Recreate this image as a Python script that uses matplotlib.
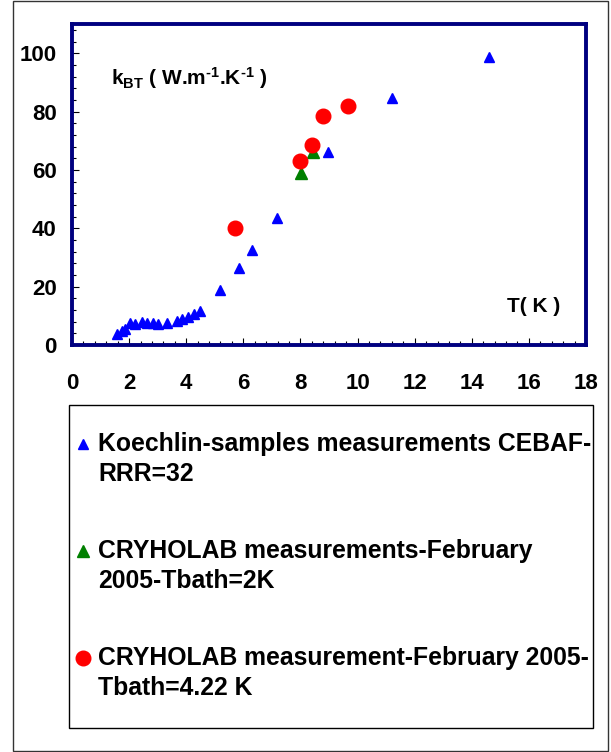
import matplotlib
matplotlib.use("Agg")
import matplotlib.pyplot as plt
from matplotlib.patches import Rectangle
from matplotlib.lines import Line2D
from matplotlib.ticker import MultipleLocator

plt.rcParams['font.family'] = ['Liberation Sans', 'DejaVu Sans']
plt.rcParams['mathtext.fontset'] = 'custom'
plt.rcParams['mathtext.rm'] = 'Liberation Sans:bold'
plt.rcParams['mathtext.it'] = 'Liberation Sans:bold'
plt.rcParams['mathtext.bf'] = 'Liberation Sans:bold'

# Koechlin samples, CEBAF, RRR=32
koechlin_T = [1.58, 1.74, 1.86, 2.03, 2.20, 2.44, 2.61, 2.85, 3.02, 3.31,
              3.66, 3.84, 4.07, 4.27, 4.48, 5.20, 5.86, 6.29, 7.17, 8.97,
              11.19, 14.6]
koechlin_k = [3.8, 4.8, 5.5, 7.5, 7.2, 7.9, 7.5, 7.5, 7.2, 7.5,
              8.2, 8.9, 9.6, 10.5, 11.8, 18.8, 26.3, 32.5, 43.4, 66.0,
              84.8, 98.6]

# CRYHOLAB, February 2005, Tbath = 2 K
cryo2_T = [8.02, 8.45]
cryo2_k = [59.0, 66.0]

# CRYHOLAB, February 2005, Tbath = 4.22 K
cryo4_T = [5.71, 7.98, 8.39, 8.80, 9.68]
cryo4_k = [40.0, 63.0, 68.7, 78.5, 81.8]

legend_labels = [
    ["Koechlin-samples measurements CEBAF-", "RRR=32"],
    ["CRYHOLAB measurements-February", "2005-Tbath=2K"],
    ["CRYHOLAB measurement-February 2005-", "Tbath=4.22 K"],
]

x_ticks = list(range(0, 19, 2))
y_ticks = list(range(0, 101, 20))

W, H = 611, 752
fig = plt.figure(figsize=(W / 100, H / 100), dpi=100)


def fx(px):
    return px / W


def fy(py):
    return 1 - py / H


# outer frame around the whole figure
fig.patches.append(Rectangle((fx(13), fy(751)), fx(608) - fx(13), fy(1) - fy(751),
                             transform=fig.transFigure, fill=False,
                             edgecolor='#333333', linewidth=1.0))

ax = fig.add_axes([fx(72), fy(345), fx(586) - fx(72), fy(24) - fy(345)])
ax.set_xlim(0, 18)
ax.set_ylim(0, 110)

navy = '#000080'
for side in ['left', 'right', 'top', 'bottom']:
    ax.spines[side].set_color(navy)
    ax.spines[side].set_linewidth(2.8)

ax.set_xticks(x_ticks)
ax.set_yticks(y_ticks)
ax.xaxis.set_minor_locator(MultipleLocator(0.4))
ax.yaxis.set_minor_locator(MultipleLocator(4))
ax.tick_params(which='both', direction='in', top=False, right=False, color='black', width=0.8)
ax.tick_params(which='major', length=5)
ax.tick_params(which='minor', length=3)
ax.tick_params(axis='x', which='major', pad=20, labelsize=16)
ax.tick_params(axis='y', which='major', pad=11, labelsize=16)
for lab in ax.get_xticklabels() + ax.get_yticklabels():
    lab.set_fontweight('bold')

blue_style = dict(marker='^', color='#0000FF', markersize=6.5, linestyle='none')
green_style = dict(marker='^', color='#008000', markersize=8.5, linestyle='none')
red_style = dict(marker='o', color='#FF0000', markersize=10.5, linestyle='none')

ax.plot(koechlin_T, koechlin_k, zorder=3, clip_on=False, **blue_style)
ax.plot(cryo2_T, cryo2_k, zorder=4, **green_style)
ax.plot(cryo4_T, cryo4_k, zorder=5, **red_style)

ax.text(0.076, 0.832, 'k$_{\\rm BT}$ ( W.m$^{\\rm \u20101}$.K$^{\\rm \u20101}$ )',
        transform=ax.transAxes, fontsize=15, fontweight='bold', va='center', ha='left')
ax.text(0.846, 0.121, 'T( K )', transform=ax.transAxes, fontsize=15,
        fontweight='bold', va='center', ha='left')

# legend box below the plot
fig.patches.append(Rectangle((fx(69), fy(728)), fx(593) - fx(69), fy(405) - fy(728),
                             transform=fig.transFigure, fill=False,
                             edgecolor='black', linewidth=1.0))
styles = [blue_style, green_style, red_style]
first_lines = [444, 551, 658]
for style, lines, y0 in zip(styles, legend_labels, first_lines):
    fig.lines.append(Line2D([fx(83)], [fy(y0)], transform=fig.transFigure, **style))
    for i, line in enumerate(lines):
        fig.text(fx(98), fy(y0 + 30 * i), line, fontsize=17.8, fontweight='bold',
                 va='center', ha='left')

fig.savefig('out.png', dpi=100)
